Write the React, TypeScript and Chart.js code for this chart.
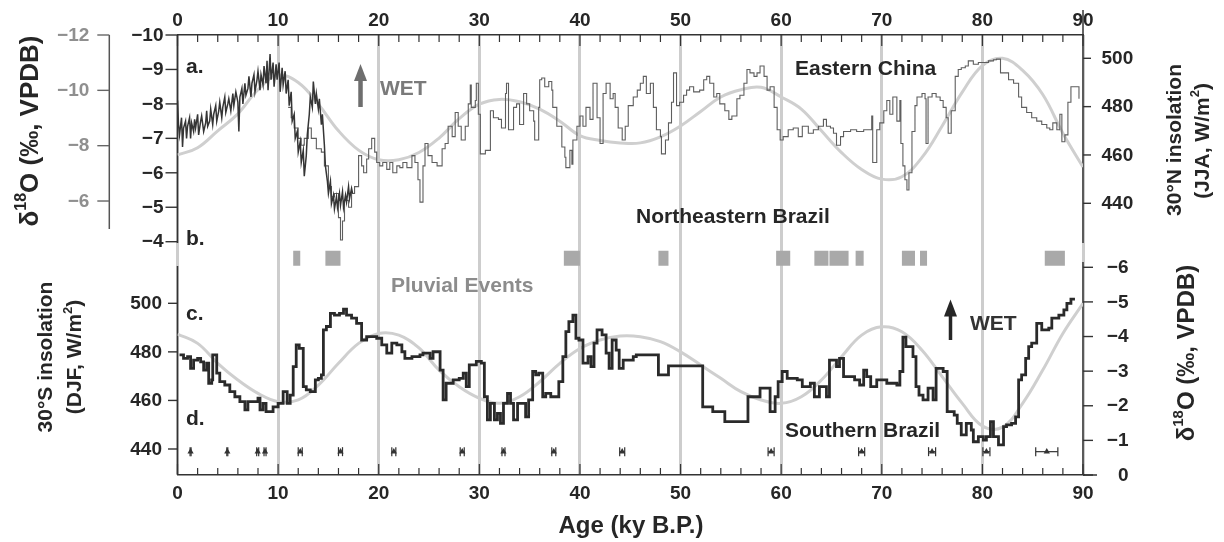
import React, { useEffect, useRef } from 'react';
import { Chart, registerables } from 'chart.js';

Chart.register(...registerables);

const FONT = '"Liberation Sans", Arial, Helvetica, sans-serif';

// ---- Age axis (ky B.P.) ----
const ageMin = 0;
const ageMax = 90;
const ageLabelStep = 10;
const ageMinorStep = 2;

// ---- Tick label values ----
const chinaD18OTicks = [-10, -9, -8, -7, -6, -5, -4];
const chinaD18OOuterTicks = [-12, -10, -8, -6];
const insol30NTicks = [500, 480, 460, 440];
const insol30STicks = [500, 480, 460, 440];
const brazilD18OTicks = [-6, -5, -4, -3, -2, -1, 0];

// ---- 30°N summer (JJA) insolation, W/m² ----
const insol30NAges = [0, 2, 4, 6, 8, 10, 12, 14, 16, 18, 20, 22, 24, 26, 28, 30, 32, 34, 36, 38, 40, 42, 44, 46, 48, 50, 52, 54, 56, 58, 60, 62, 64, 66, 68, 70, 72, 74, 76, 78, 80, 82, 84, 86, 88, 90];
const insol30N = [460, 463, 470, 477, 487, 493, 490, 481, 470, 462, 458, 458, 461, 467, 475, 481, 483, 482, 479, 474, 468, 466, 465, 465, 467.5, 472, 478, 484, 487, 488, 484, 479, 470, 461, 454, 450, 451, 459, 472, 486, 497, 500, 495, 485, 469, 455];

// ---- 30°S summer (DJF) insolation, W/m² ----
const insol30SAges = [0, 2, 4, 6, 8, 10, 12, 14, 16, 18, 20, 22, 24, 26, 28, 30, 32, 34, 36, 38, 40, 42, 44, 46, 48, 50, 52, 54, 56, 58, 60, 62, 64, 66, 68, 70, 72, 74, 76, 78, 80, 82, 84, 86, 88, 90];
const insol30S = [487.3, 483.5, 475.3, 468.4, 462.9, 459.5, 460.2, 466.3, 475.3, 483.5, 487.6, 486.9, 481.6, 472.5, 465.6, 460.9, 458.8, 461.5, 467.7, 475.3, 481.4, 484.9, 486.5, 486.2, 484.2, 480.0, 474.6, 469.1, 463.6, 460.2, 458.8, 461.5, 468.4, 478.0, 486.9, 490.3, 488.3, 480.7, 469.8, 458.8, 449.5, 449.0, 458.8, 472.5, 487.6, 500.0];

// ---- Eastern China δ18O, densely sampled Holocene/deglacial record [age, ‰] ----
const chinaDenseRecord: [number, number][] = [
  [0.0, -8.1], [0.1, -7.4], [0.2, -7.1], [0.4, -7.6], [0.5, -6.75], [0.6, -7.3], [0.8, -7.5], [0.9, -7.0], [1.0, -7.35], [1.2, -7.6],
  [1.3, -7.0], [1.4, -7.45], [1.6, -7.2], [1.7, -7.55], [1.8, -7.3], [2.0, -7.7], [2.1, -7.1], [2.3, -7.5], [2.4, -7.65], [2.6, -7.2],
  [2.8, -7.45], [2.9, -7.8], [3.0, -7.35], [3.2, -7.5], [3.3, -7.85], [3.5, -7.4], [3.6, -7.7], [3.8, -7.95], [3.9, -7.5], [4.1, -7.8],
  [4.2, -8.05], [4.4, -7.6], [4.5, -7.9], [4.7, -8.2], [4.8, -7.75], [5.0, -8.0], [5.1, -8.15], [5.3, -7.8], [5.5, -8.3], [5.6, -7.95],
  [5.8, -8.35], [6.0, -8.05], [6.1, -7.2], [6.2, -8.2], [6.4, -8.45], [6.5, -8.0], [6.7, -8.6], [6.8, -8.25], [7.0, -8.45], [7.1, -8.8],
  [7.3, -8.2], [7.4, -8.6], [7.6, -8.85], [7.7, -8.35], [7.9, -8.7], [8.0, -8.95], [8.2, -8.4], [8.3, -8.85], [8.5, -8.55], [8.6, -9.1],
  [8.8, -8.6], [8.9, -9.25], [9.0, -8.4], [9.2, -9.45], [9.3, -8.7], [9.5, -9.2], [9.6, -8.5], [9.8, -9.15], [9.9, -8.7], [10.1, -9.2],
  [10.2, -8.35], [10.4, -9.05], [10.5, -8.55], [10.7, -8.95], [10.8, -8.3], [11.0, -8.7], [11.1, -7.95], [11.3, -8.35], [11.4, -7.5], [11.6, -7.7],
  [11.7, -7.0], [11.9, -7.2], [12.0, -6.6], [12.2, -6.9], [12.3, -6.3], [12.5, -6.65], [12.6, -5.9], [12.8, -6.5], [12.9, -7.1], [13.1, -7.7],
  [13.2, -8.2], [13.4, -7.9], [13.5, -8.65], [13.7, -8.0], [13.8, -8.3], [14.0, -7.85], [14.1, -8.15], [14.3, -7.4], [14.4, -7.7], [14.6, -6.8],
  [14.7, -6.2], [14.9, -5.75], [15.0, -5.4], [15.2, -5.75], [15.3, -5.1], [15.5, -5.35], [15.6, -4.95], [15.8, -5.3], [15.9, -5.0], [16.1, -5.4],
  [16.2, -5.05], [16.4, -5.45], [16.5, -5.0], [16.7, -5.35], [16.8, -5.15], [17.0, -5.6], [17.1, -5.25], [17.3, -5.55], [17.4, -5.4],
];

// ---- Eastern China δ18O, long stepped record [age, ‰] ----
const chinaLongRecord: [number, number][] = [
  [11.0, -7.9], [11.3, -7.6], [11.6, -7.3], [12.0, -7.0], [12.3, -6.8], [12.6, -7.0], [13.0, -7.3], [13.3, -7.0], [13.8, -6.7], [14.3, -6.6],
  [14.6, -6.2], [15.0, -5.6], [15.3, -5.3], [15.6, -5.4], [16.0, -4.7], [16.2, -4.05], [16.4, -4.6], [16.6, -5.2], [17.0, -5.0], [17.3, -5.4],
  [17.6, -5.6], [18.0, -6.5], [18.3, -6.2], [18.5, -6.0], [18.8, -6.4], [19.0, -6.7], [19.3, -7.0], [19.6, -6.6], [19.8, -6.3], [20.1, -6.2],
  [20.4, -6.3], [20.8, -6.1], [21.1, -6.3], [21.4, -6.0], [21.8, -6.2], [22.1, -6.15], [22.4, -6.3], [22.8, -6.15], [23.3, -6.5], [23.6, -6.3],
  [23.9, -5.8], [24.1, -5.15], [24.4, -6.2], [24.6, -6.85], [24.9, -6.5], [25.3, -6.3], [25.8, -6.2], [26.3, -6.7], [26.6, -6.85], [26.9, -7.35],
  [27.3, -7.05], [27.6, -7.75], [27.9, -7.35], [28.2, -6.95], [28.6, -7.35], [28.9, -8.0], [29.1, -8.55], [29.2, -7.9], [29.6, -8.1], [29.7, -8.6],
  [29.9, -7.7], [30.1, -6.55], [30.6, -6.65], [31.1, -7.8], [31.4, -7.6], [31.9, -7.55], [32.2, -7.3], [32.6, -8.3], [32.7, -8.6], [32.9, -7.25],
  [33.4, -7.9], [33.7, -8.0], [34.0, -7.4], [34.4, -8.3], [34.7, -8.0], [35.0, -7.8], [35.4, -7.5], [35.5, -6.95], [35.9, -7.9], [36.0, -8.7],
  [36.2, -8.75], [36.5, -8.5], [36.9, -8.65], [37.2, -8.4], [37.3, -7.9], [37.7, -7.35], [38.2, -6.75], [38.5, -6.45], [38.6, -6.15], [39.0, -6.65],
  [39.2, -6.25], [39.3, -6.95], [39.7, -7.35], [40.0, -7.65], [40.3, -7.35], [40.6, -7.9], [41.0, -7.55], [41.3, -8.6], [41.7, -7.6], [42.0, -6.85],
  [42.3, -8.3], [42.6, -8.6], [43.0, -8.15], [43.3, -8.3], [43.5, -7.9], [43.8, -7.3], [44.2, -6.95], [44.5, -7.35], [44.8, -7.95], [45.3, -8.2],
  [45.7, -8.4], [46.0, -8.6], [46.3, -8.8], [46.6, -8.3], [47.0, -8.6], [47.3, -7.9], [47.6, -7.25], [48.0, -7.05], [48.1, -6.55], [48.5, -6.95],
  [48.8, -7.45], [49.1, -8.05], [49.3, -8.9], [49.6, -7.95], [49.9, -8.05], [50.3, -8.25], [50.6, -8.4], [50.9, -8.5], [51.3, -8.35], [51.9, -8.4],
  [52.3, -8.7], [52.6, -8.8], [52.9, -8.6], [53.3, -8.2], [53.6, -8.3], [53.9, -8.0], [54.4, -7.8], [54.8, -7.55], [55.1, -7.65], [55.6, -8.15],
  [55.9, -8.25], [56.3, -8.6], [56.6, -9.0], [56.9, -8.9], [57.3, -8.8], [57.6, -8.9], [57.9, -9.1], [58.3, -8.8], [58.6, -8.4], [58.9, -8.5],
  [59.3, -7.9], [59.6, -7.25], [59.9, -6.95], [60.2, -7.05], [60.7, -7.25], [61.2, -7.3], [61.7, -7.05], [62.1, -7.35], [62.7, -7.15], [63.2, -7.25],
  [63.7, -7.35], [64.2, -7.55], [64.5, -7.35], [64.9, -7.3], [65.2, -7.15], [65.5, -6.8], [65.9, -7.05], [66.2, -7.2], [66.9, -7.25], [67.5, -7.2],
  [68.2, -7.25], [68.7, -7.25], [69.0, -7.65], [69.1, -6.3], [69.5, -7.25], [69.8, -7.45], [70.2, -7.8], [70.5, -8.1], [70.8, -7.7], [71.1, -8.2],
  [71.5, -7.5], [71.8, -8.1], [71.9, -6.85], [72.1, -6.2], [72.3, -5.8], [72.5, -5.5], [72.7, -6.0], [73.0, -7.2], [73.3, -7.95], [73.5, -8.2],
  [74.0, -8.3], [74.3, -8.15], [74.4, -6.85], [74.6, -8.2], [75.0, -8.3], [75.4, -8.2], [75.8, -8.1], [76.1, -7.9], [76.4, -7.6], [76.6, -7.15],
  [76.9, -7.8], [77.3, -8.8], [77.6, -9.0], [77.9, -9.05], [78.3, -9.1], [78.6, -9.25], [79.1, -9.15], [79.6, -9.2], [80.1, -9.2], [80.6, -9.25],
  [81.1, -9.28], [81.4, -9.3], [81.8, -8.9], [82.1, -8.9], [82.6, -8.7], [83.1, -8.6], [83.6, -8.2], [83.9, -7.9], [84.4, -7.75], [84.9, -7.6],
  [85.4, -7.5], [85.9, -7.4], [86.4, -7.3], [86.7, -7.25], [87.0, -7.45], [87.4, -7.25], [87.7, -7.7], [87.9, -6.9], [88.2, -7.1], [88.5, -8.05],
  [88.8, -8.5], [89.3, -8.5], [89.6, -8.15],
];

// ---- Southern Brazil δ18O, stepped record [age, ‰] ----
const brazilRecord: [number, number][] = [
  [0.2, -3.47], [0.6, -3.37], [1.0, -3.42], [1.3, -3.08], [1.6, -3.32], [2.0, -3.37], [2.3, -3.27], [2.6, -3.03], [2.9, -3.23], [3.1, -2.65],
  [3.4, -2.75], [3.5, -3.47], [3.9, -2.94], [4.2, -2.70], [4.7, -2.60], [5.2, -2.41], [5.7, -2.26], [6.2, -2.12], [6.7, -1.88], [7.0, -2.12],
  [7.8, -2.12], [8.0, -2.22], [8.2, -1.88], [8.5, -2.07], [8.8, -1.83], [9.5, -1.97], [10.0, -2.07], [10.5, -2.41], [10.9, -2.07], [11.2, -2.31],
  [11.5, -3.13], [11.8, -3.76], [12.1, -3.66], [12.5, -2.55], [12.8, -2.46], [13.2, -2.41], [13.7, -2.75], [14.0, -2.79], [14.3, -2.89], [14.5, -4.19],
  [14.8, -4.29], [15.2, -4.67], [15.6, -4.62], [16.1, -4.67], [16.5, -4.79], [16.8, -4.62], [17.3, -4.53], [17.8, -4.38], [18.3, -3.90], [18.8, -4.00],
  [19.8, -3.95], [20.3, -3.76], [20.8, -3.52], [21.3, -3.81], [21.8, -3.76], [22.3, -3.56], [22.6, -3.37], [23.3, -3.42], [24.1, -3.47], [24.4, -3.52],
  [25.1, -3.37], [25.4, -3.56], [26.1, -3.03], [26.4, -2.17], [26.7, -2.65], [27.4, -2.75], [28.0, -2.79], [28.4, -2.94], [28.7, -2.55], [29.0, -3.18],
  [29.7, -3.28], [30.2, -3.23], [30.5, -2.26], [30.8, -1.59], [31.1, -2.07], [31.5, -1.59], [31.8, -1.78], [32.1, -1.49], [32.4, -2.07], [32.8, -2.36],
  [33.1, -2.07], [33.4, -1.59], [33.8, -2.07], [34.3, -2.07], [34.6, -1.68], [34.9, -2.17], [35.3, -2.99], [35.6, -2.89], [35.9, -2.94], [36.3, -2.26],
  [36.6, -2.36], [37.1, -2.26], [37.6, -2.26], [37.9, -2.70], [38.3, -3.42], [38.6, -4.14], [38.9, -4.43], [39.3, -4.62], [39.6, -3.95], [39.9, -3.90],
  [40.3, -3.23], [40.8, -3.42], [41.1, -3.13], [41.4, -3.81], [41.7, -4.19], [42.2, -4.05], [42.6, -3.52], [42.9, -3.08], [43.2, -3.90], [43.6, -3.61],
  [43.9, -3.08], [44.3, -3.32], [45.3, -3.42], [45.6, -3.47], [47.8, -2.89], [48.8, -3.15], [52.2, -1.97], [53.2, -1.83], [54.4, -1.54], [56.7, -2.26],
  [57.9, -2.51], [58.9, -1.83], [59.4, -2.26], [59.7, -2.70], [60.1, -2.99], [60.6, -2.79], [61.6, -2.75], [62.1, -2.55], [62.9, -2.65], [63.3, -2.26],
  [63.8, -2.55], [64.5, -2.26], [64.8, -3.32], [65.5, -3.13], [65.8, -3.37], [66.2, -2.84], [67.3, -2.75], [67.8, -2.60], [68.2, -3.03], [68.5, -2.84],
  [68.9, -2.55], [69.5, -2.75], [70.5, -2.65], [71.5, -2.60], [71.8, -2.99], [72.1, -3.98], [72.4, -3.71], [73.1, -3.42], [73.4, -2.55], [73.7, -2.31],
  [74.1, -2.17], [74.6, -2.51], [75.1, -2.17], [75.4, -3.08], [76.1, -2.99], [76.5, -1.83], [77.2, -1.73], [77.5, -1.49], [77.9, -1.16], [78.4, -1.49],
  [78.9, -1.30], [79.1, -0.96], [79.6, -1.11], [80.1, -1.01], [80.4, -1.11], [80.8, -1.54], [81.1, -1.11], [81.6, -0.87], [82.1, -1.40], [82.4, -1.45],
  [82.9, -1.49], [83.3, -1.68], [83.6, -2.75], [83.9, -2.89], [84.3, -3.37], [84.6, -3.71], [84.9, -3.81], [85.4, -4.38], [85.9, -4.19], [86.6, -4.24],
  [86.9, -4.53], [87.6, -4.62], [88.1, -4.77], [88.4, -4.96], [88.8, -5.08], [89.2, -5.08],
];

// ---- Pluvial events in northeastern Brazil [start, end] ky ----
const pluvialEvents: [number, number][] = [
  [11.5, 12.2], [14.7, 16.2], [38.4, 40.0], [47.8, 48.8], [59.5, 60.9], [63.3, 64.7],
  [64.8, 66.7], [67.4, 68.2], [72.0, 73.3], [73.8, 74.5], [86.2, 88.2],
];

// ---- U/Th dates with 2σ errors (ky) ----
const datedAges = [1.3, 4.95, 7.97, 8.7, 12.2, 16.2, 21.5, 28.3, 32.4, 37.4, 44.2, 59.0, 68.0, 75.0, 80.4, 86.4];
const datedErrors = [0.05, 0.05, 0.1, 0.1, 0.2, 0.2, 0.2, 0.2, 0.15, 0.2, 0.25, 0.3, 0.3, 0.35, 0.35, 1.1];

// Levels (in axis units) where the event bars and the date markers sit
const pluvialLevel = -3.52; // on the China δ18O axis
const datesLevel = 438.9;   // on the 30°S insolation axis

const COLORS = {
  ink: '#262626',
  axis: '#333333',
  grid: '#cdcdcd',
  insolation: '#cfcfcf',
  dense: '#353535',
  long: '#5e5e5e',
  brazil: '#2a2a2a',
  pluvial: '#a9a9a9',
  muted: '#8c8c8c',
};

type Seg = { t: string; sup?: boolean };

function drawRich(ctx: CanvasRenderingContext2D, segs: Seg[], cx: number, cy: number, size: number, rot: number, color: string) {
  ctx.save();
  ctx.translate(cx, cy);
  if (rot) ctx.rotate(rot);
  const main = `bold ${size}px ${FONT}`;
  const sup = `bold ${Math.round(size * 0.62)}px ${FONT}`;
  let total = 0;
  for (const s of segs) {
    ctx.font = s.sup ? sup : main;
    total += ctx.measureText(s.t).width;
  }
  let x = -total / 2;
  ctx.fillStyle = color;
  ctx.textAlign = 'left';
  ctx.textBaseline = 'middle';
  for (const s of segs) {
    ctx.font = s.sup ? sup : main;
    ctx.fillText(s.t, x, s.sup ? -size * 0.36 : 0);
    x += ctx.measureText(s.t).width;
  }
  ctx.restore();
}

const fmt = (v: number) => (v < 0 ? '\u2212' + Math.abs(v) : String(v));

const decorPlugin = {
  id: 'panelDecor',
  beforeDatasetsDraw(chart: any) {
    const { ctx, chartArea: ca, scales } = chart;
    const xs = scales.x;
    const seg = (x1: number, y1: number, x2: number, y2: number) => {
      ctx.beginPath();
      ctx.moveTo(x1, y1);
      ctx.lineTo(x2, y2);
      ctx.stroke();
    };
    ctx.save();
    ctx.lineCap = 'butt';

    // Panel spines
    const outerX = ca.left - 68.2;
    ctx.strokeStyle = COLORS.axis;
    ctx.lineWidth = 1.5;
    seg(ca.left, ca.top, ca.left, 243);
    seg(ca.left, 266, ca.left, ca.bottom);
    seg(ca.right, 10, ca.right, 243);
    seg(ca.right, 262, ca.right, ca.bottom);
    seg(ca.right, ca.bottom, ca.right + 14, ca.bottom);
    ctx.strokeStyle = '#555';
    seg(outerX, ca.top, outerX, 229);

    // Inward age ticks on top and bottom axes
    ctx.strokeStyle = COLORS.axis;
    ctx.lineWidth = 1.2;
    for (let a = ageMin; a <= ageMax; a += ageMinorStep) {
      const px = xs.getPixelForValue(a);
      const len = a % ageLabelStep === 0 ? 11 : 7;
      seg(px, ca.bottom, px, ca.bottom - len);
      seg(px, ca.top, px, ca.top + len);
    }

    // Value axes: ticks and labels
    const axes = [
      { id: 'yChina', ticks: chinaD18OTicks, x: ca.left, dir: -1, len: 12, lx: ca.left - 14, align: 'right', color: COLORS.ink, tick: COLORS.axis },
      { id: 'yChinaOuter', ticks: chinaD18OOuterTicks, x: outerX, dir: -1, len: 12, lx: outerX - 20, align: 'right', color: '#8f8f8f', tick: '#666' },
      { id: 'yInsolS', ticks: insol30STicks, x: ca.left, dir: -1, len: 9.5, lx: ca.left - 15.5, align: 'right', color: COLORS.ink, tick: COLORS.axis },
      { id: 'yInsolN', ticks: insol30NTicks, x: ca.right, dir: 1, len: 8, lx: ca.right + 18.5, align: 'left', color: COLORS.ink, tick: COLORS.axis },
      { id: 'yBrazil', ticks: brazilD18OTicks, x: ca.right, dir: 1, len: 10, lx: ca.right + 45.5, align: 'right', color: COLORS.ink, tick: COLORS.axis },
    ];
    ctx.font = `bold 19px ${FONT}`;
    ctx.textBaseline = 'middle';
    for (const ax of axes) {
      const sc = scales[ax.id];
      ctx.strokeStyle = ax.tick;
      ctx.lineWidth = 1.4;
      ctx.fillStyle = ax.color;
      ctx.textAlign = ax.align as CanvasTextAlign;
      for (const v of ax.ticks) {
        const py = sc.getPixelForValue(v);
        seg(ax.x, py, ax.x + ax.dir * ax.len, py);
        ctx.fillText(fmt(v), ax.lx, py + 0.5);
      }
    }

    // Axis titles
    const up = -Math.PI / 2;
    drawRich(ctx, [{ t: '\u03b4' }, { t: '18', sup: true }, { t: 'O (\u2030, VPDB)' }], 31, 131, 26, up, COLORS.ink);
    drawRich(ctx, [{ t: '\u03b4' }, { t: '18', sup: true }, { t: 'O (\u2030, VPDB)' }], 1187.5, 353, 24, up, COLORS.ink);
    drawRich(ctx, [{ t: '30\u00b0N insolation' }], 1175, 140, 21, up, COLORS.ink);
    drawRich(ctx, [{ t: '(JJA, W/m' }, { t: '2', sup: true }, { t: ')' }], 1203, 141, 21, up, COLORS.ink);
    drawRich(ctx, [{ t: '30\u00b0S insolation' }], 46.5, 357, 21, up, COLORS.ink);
    drawRich(ctx, [{ t: '(DJF, W/m' }, { t: '2', sup: true }, { t: ')' }], 75.5, 357, 21, up, COLORS.ink);
    drawRich(ctx, [{ t: 'Age (ky B.P.)' }], 631, 526, 24, 0, COLORS.ink);

    // Panel letters and record names
    const labels: [string, number, number, string][] = [
      ['a.', 186, 73, COLORS.ink],
      ['b.', 186, 245, COLORS.ink],
      ['c.', 186, 320, COLORS.ink],
      ['d.', 186, 425, COLORS.ink],
      ['Eastern China', 795, 75, COLORS.ink],
      ['Northeastern Brazil', 636, 223, COLORS.ink],
      ['Pluvial Events', 391, 292, COLORS.muted],
      ['Southern Brazil', 785, 436.5, COLORS.ink],
      ['WET', 380, 95, '#7a7a7a'],
      ['WET', 970, 330, '#333'],
    ];
    ctx.font = `bold 21px ${FONT}`;
    ctx.textAlign = 'left';
    ctx.textBaseline = 'alphabetic';
    for (const [t, x, y, c] of labels) {
      ctx.fillStyle = c;
      ctx.fillText(t, x, y);
    }

    // "Wet" direction arrows
    const arrow = (age: number, yId: string, from: number, to: number, color: string, shaft: number) => {
      const px = xs.getPixelForValue(age);
      const y0 = scales[yId].getPixelForValue(from);
      const y1 = scales[yId].getPixelForValue(to);
      ctx.strokeStyle = color;
      ctx.fillStyle = color;
      ctx.lineWidth = shaft;
      seg(px, y0, px, y1 + 12);
      ctx.beginPath();
      ctx.moveTo(px, y1);
      ctx.lineTo(px - 6.5, y1 + 17);
      ctx.lineTo(px + 6.5, y1 + 17);
      ctx.closePath();
      ctx.fill();
    };
    arrow(18.19, 'yChina', -7.91, -9.16, '#6e6e6e', 4.5);
    arrow(76.83, 'yBrazil', -3.9, -5.07, '#262626', 3.5);

    // Date error bars
    const sy = scales.yInsolS;
    ctx.strokeStyle = '#333';
    ctx.lineWidth = 1.2;
    datedAges.forEach((a, i) => {
      const py = sy.getPixelForValue(datesLevel);
      const x0 = xs.getPixelForValue(a - datedErrors[i]);
      const x1 = xs.getPixelForValue(a + datedErrors[i]);
      seg(x0, py, x1, py);
      seg(x0, py - 4.5, x0, py + 4.5);
      seg(x1, py - 4.5, x1, py + 4.5);
    });
    ctx.restore();
  },
};

const toXY = (pairs: [number, number][]) => pairs.map(([x, y]) => ({ x, y }));
const zipXY = (xs: number[], ys: number[]) => xs.map((x, i) => ({ x, y: ys[i] }));

function pluvialPoints() {
  const pts: { x: number; y: number | null }[] = [];
  for (const [s, e] of pluvialEvents) {
    pts.push({ x: s, y: pluvialLevel }, { x: e, y: pluvialLevel }, { x: e, y: null });
  }
  return pts;
}

const tickFont = { family: FONT, size: 19, weight: 'bold' as const };

export default function App() {
  const ref = useRef<HTMLCanvasElement>(null);

  useEffect(() => {
    if (!ref.current) return;
    const noPoints = { pointRadius: 0, pointHoverRadius: 0 };
    const chart = new Chart(ref.current, {
      type: 'line',
      data: {
        datasets: [
          {
            label: 'Dated samples',
            data: datedAges.map((a) => ({ x: a, y: datesLevel })),
            yAxisID: 'yInsolS',
            showLine: false,
            pointStyle: 'triangle',
            pointRadius: 3.6,
            pointBackgroundColor: '#333',
            pointBorderWidth: 0,
          },
          {
            label: 'Southern Brazil',
            data: toXY(brazilRecord),
            yAxisID: 'yBrazil',
            stepped: 'before',
            borderColor: COLORS.brazil,
            borderWidth: 2.8,
            ...noPoints,
          },
          {
            label: 'Eastern China (dense)',
            data: toXY(chinaDenseRecord),
            yAxisID: 'yChina',
            borderColor: COLORS.dense,
            borderWidth: 1.5,
            ...noPoints,
          },
          {
            label: 'Eastern China',
            data: toXY(chinaLongRecord),
            yAxisID: 'yChina',
            stepped: 'before',
            borderColor: COLORS.long,
            borderWidth: 1.1,
            ...noPoints,
          },
          {
            label: 'Pluvial events',
            data: pluvialPoints() as any,
            yAxisID: 'yChina',
            borderColor: COLORS.pluvial,
            borderWidth: 15,
            borderCapStyle: 'butt',
            spanGaps: false,
            ...noPoints,
          },
          {
            label: '30°N insolation',
            data: zipXY(insol30NAges, insol30N),
            yAxisID: 'yInsolN',
            borderColor: COLORS.insolation,
            borderWidth: 3,
            tension: 0.4,
            ...noPoints,
          },
          {
            label: '30°S insolation',
            data: zipXY(insol30SAges, insol30S),
            yAxisID: 'yInsolS',
            borderColor: COLORS.insolation,
            borderWidth: 3,
            tension: 0.4,
            ...noPoints,
          },
        ],
      },
      options: {
        responsive: false,
        animation: false,
        devicePixelRatio: 1,
        events: [],
        layout: { padding: { left: 177.5, right: 141, top: 0, bottom: 0 } },
        plugins: { legend: { display: false }, tooltip: { enabled: false } },
        scales: {
          x: {
            type: 'linear',
            position: 'bottom',
            min: ageMin,
            max: ageMax,
            ticks: { stepSize: ageLabelStep, font: tickFont, color: COLORS.ink, padding: 6.9 },
            grid: { color: COLORS.grid, lineWidth: 3, drawTicks: false },
            border: { display: true, color: COLORS.axis, width: 1.5 },
            afterFit: (s: any) => { s.height = 67; },
          },
          xTop: {
            type: 'linear',
            position: 'top',
            min: ageMin,
            max: ageMax,
            ticks: { stepSize: ageLabelStep, font: tickFont, color: COLORS.ink, padding: 3.2 },
            grid: { display: false, drawTicks: false },
            border: { display: true, color: COLORS.axis, width: 1.5 },
            afterFit: (s: any) => { s.height = 35; },
          },
          yChina: { type: 'linear', display: false, reverse: true, min: -10, max: 2.772 },
          yChinaOuter: { type: 'linear', display: false, reverse: true, min: -12, max: 3.902 },
          yInsolN: { type: 'linear', display: false, min: 327.57, max: 509.64 },
          yInsolS: { type: 'linear', display: false, min: 429.29, max: 610.5 },
          yBrazil: { type: 'linear', display: false, reverse: true, min: -12.71, max: 0 },
        },
      } as any,
      plugins: [decorPlugin],
    });
    return () => chart.destroy();
  }, []);

  return (
    <div style={{ position: 'fixed', left: 0, top: 0, width: 1224, height: 542, background: '#fff' }}>
      <canvas ref={ref} width={1224} height={542} style={{ display: 'block' }} />
    </div>
  );
}
